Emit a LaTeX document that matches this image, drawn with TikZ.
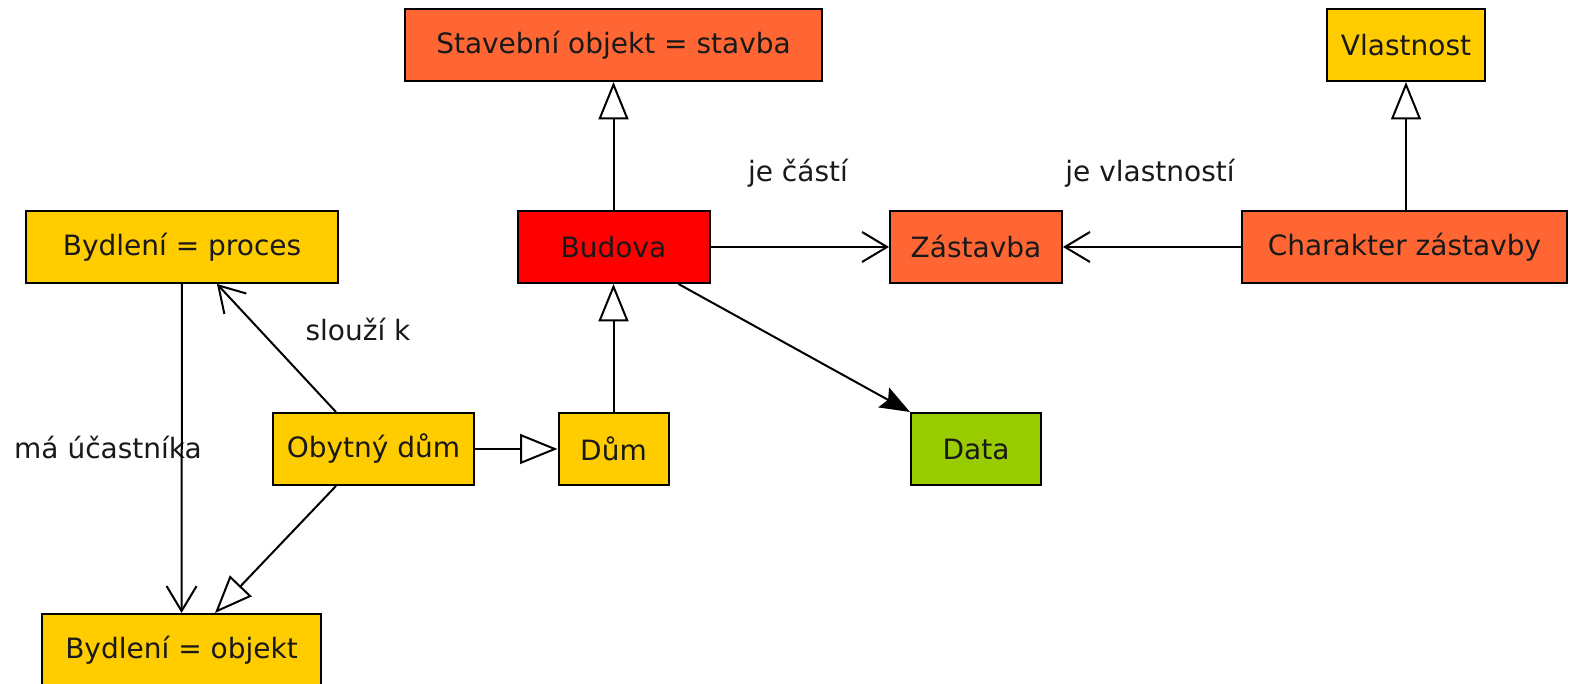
\documentclass[tikz,border=0pt]{standalone}
\usepackage{fontspec}
\setmainfont{DejaVu Sans}
\usetikzlibrary{arrows.meta}
\definecolor{zluta}{HTML}{FFCC00}
\definecolor{oranz}{HTML}{FF6633}
\definecolor{cervena}{HTML}{FF0000}
\definecolor{zelena}{HTML}{99CC00}
\begin{document}
\begin{tikzpicture}[x=0.4pt,y=-0.4pt]
          \tikzstyle{every node}=[font=\fontsize{11.2}{13}\selectfont,text=black!90];
          \tikzstyle{trida}=[draw,line width=0.8pt,minimum height=28.8pt,inner sep=0pt];
          \tikzstyle{dedi}=[line width=0.8pt,-{Triangle[open,length=15pt,width=12pt]}];
          \tikzstyle{vztah}=[line width=0.8pt,-{Straight Barb[length=10pt,width=12pt,line width=0.8pt]}];
          \tikzstyle{tok}=[line width=0.8pt,-{Stealth[length=12pt,width=9pt,inset=2pt]}];
          \useasboundingbox (0,0) rectangle (1569,684);
          %\node (name) at (x,y) [trida,fill=...] {text};
          \node (stavba) at (613.5,45) [trida,fill=oranz,minimum width=166.8pt] {Stavební objekt = stavba};
          \node (vlastnost) at (1406,45) [trida,fill=zluta,minimum width=63.2pt] {Vlastnost};
          \node (proces) at (182,247) [trida,fill=zluta,minimum width=124.8pt] {Bydlení = proces};
          \node (budova) at (613.5,247) [trida,fill=cervena,minimum width=76.8pt] {Budova};
          \node (zastavba) at (976,247) [trida,fill=oranz,minimum width=68.8pt] {Zástavba};
          \node (charakter) at (1404.5,247) [trida,fill=oranz,minimum width=130pt] {Charakter zástavby};
          \node (obytny) at (373.5,449) [trida,fill=zluta,minimum width=80.4pt] {Obytný dům};
          \node (dum) at (613.5,449) [trida,fill=zluta,minimum width=44pt] {Dům};
          \node (data) at (976,449) [trida,fill=zelena,minimum width=52pt] {Data};
          \node (objekt) at (181.5,650) [trida,fill=zluta,minimum width=111.6pt] {Bydlení = objekt};
          % popisky
          \node (castl) at (798,173) {je částí};
          \node (vlastl) at (1150,173) {je vlastností};
          \node (slouzil) at (358,330) {slouží k};
          \node (ucastl) at (108,448) {má účastníka};
          % dedicnost
          \draw[dedi] (budova)--(stavba);
          \draw[dedi] (dum)--(budova);
          \draw[dedi] (obytny)--(dum);
          \draw[dedi] (vlastnost.south |- charakter.north)--(vlastnost.south);
          \draw[dedi] ([xshift=25.6pt]obytny.south west)--([xshift=13.4pt]objekt.north);
          % vztahy
          \draw[vztah] (budova)--(zastavba);
          \draw[vztah] (charakter)--(zastavba);
          \draw[vztah] ([xshift=25.6pt]obytny.north west)--([xshift=14pt]proces.south);
          \draw[vztah] (proces)--(objekt);
          \draw[tok] ([xshift=-12.8pt]budova.south east)--(data.north west);
      \end{tikzpicture}
\end{document}
